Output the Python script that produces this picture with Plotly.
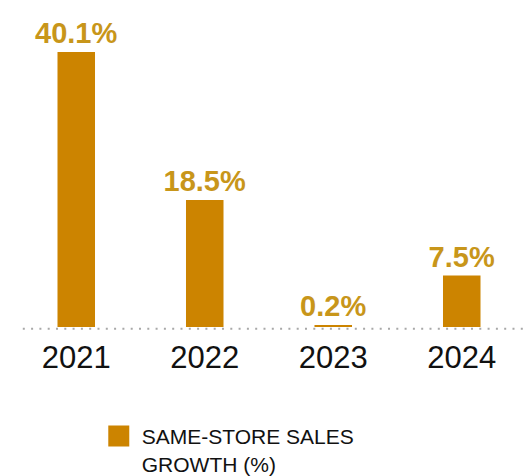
import plotly.graph_objects as go

# Same-store sales growth by year
years = ["2021", "2022", "2023", "2024"]
growth = [40.1, 18.5, 0.2, 7.5]
value_labels = ["40.1%", "18.5%", "0.2%", "7.5%"]
series_name = "SAME-STORE SALES<br>GROWTH (%)"

BAR_COLOR = "#CC8400"
LABEL_COLOR = "#C8961A"
FONT = "Liberation Sans, Arial, sans-serif"

fig = go.Figure()

fig.add_trace(go.Bar(
    x=years,
    y=growth,
    text=value_labels,
    textposition="outside",
    textfont=dict(family=FONT, size=29, color=LABEL_COLOR, weight="bold"),
    constraintext="none",
    cliponaxis=False,
    marker=dict(color=BAR_COLOR, line=dict(width=0)),
    showlegend=False,
    hoverinfo="skip",
))

# legend key for the series (larger square than the default bar swatch)
fig.add_trace(go.Scatter(
    x=[None], y=[None],
    mode="markers",
    name=series_name,
    marker=dict(symbol="square", size=16, color=BAR_COLOR,
                line=dict(color=BAR_COLOR, width=5)),
    showlegend=True,
    hoverinfo="skip",
))

# dotted baseline running across the chart
fig.add_shape(
    type="line", xref="paper", yref="paper",
    x0=0.021, x1=1.01, y0=-0.0055, y1=-0.0055,
    line=dict(color="#A8A8A8", width=2, dash="2px,6.3px"),
    layer="above",
)

fig.update_layout(
    width=527, height=476, autosize=False,
    margin=dict(l=12, r=1, t=0, b=148.5, pad=0, autoexpand=False),
    paper_bgcolor="white", plot_bgcolor="white",
    bargap=0.708,
    font=dict(family=FONT, color="#111111"),
    xaxis=dict(
        type="category", range=[-0.5, 3.5],
        showgrid=False, showline=False, zeroline=False, ticks="",
        tickfont=dict(family=FONT, size=31, color="#111111"),
        ticklabelstandoff=9,
        automargin=False,
        fixedrange=True,
    ),
    yaxis=dict(range=[0, 47.67], visible=False, fixedrange=True),
    legend=dict(
        x=0.163, y=-0.272, xanchor="left", yanchor="top",
        orientation="v", valign="top",
        itemwidth=36,
        font=dict(family=FONT, size=21, color="#111111"),
        bgcolor="rgba(0,0,0,0)", borderwidth=0,
    ),
)

fig.write_html("out.html")
